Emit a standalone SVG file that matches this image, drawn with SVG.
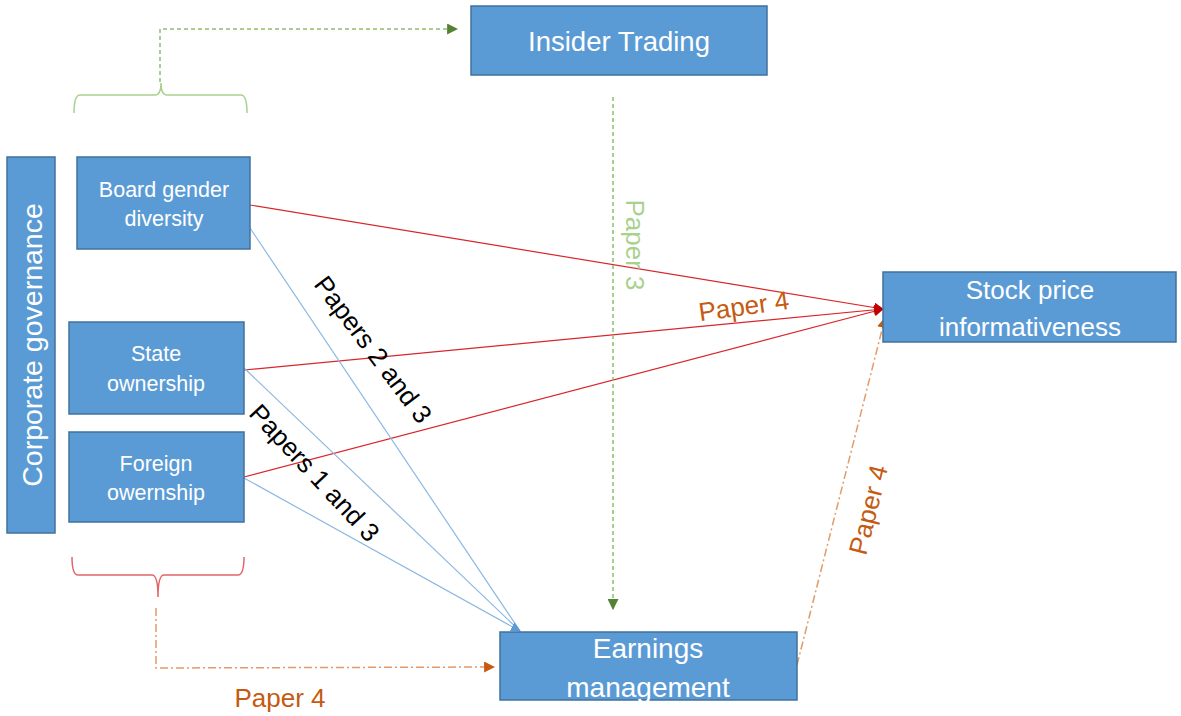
<svg xmlns="http://www.w3.org/2000/svg" width="1181" height="716" viewBox="0 0 1181 716">
<defs>
<style>
.box{fill:#5B9BD5;stroke:#41719C;stroke-width:1.5}
.bt{fill:#fff;font-family:"Liberation Sans",Arial,sans-serif;text-anchor:middle}
.lbl{font-family:"Liberation Sans",Arial,sans-serif;text-anchor:middle}
.red{stroke:#D9262B;stroke-width:1.2;fill:none}
.blue{stroke:#8DB8E3;stroke-width:1.2;fill:none}
.green{stroke:#8FBF6F;stroke-width:1.5;fill:none;stroke-dasharray:4 3}
.orange{stroke:#E39A66;stroke-width:1.5;fill:none;stroke-dasharray:8 3 2 3}
</style>
<marker id="mr" markerWidth="10" markerHeight="10" refX="9" refY="5" orient="auto" markerUnits="userSpaceOnUse" viewBox="0 0 10 10"><path d="M0,0 L10,5 L0,10 z" fill="#C00000"/></marker>
<marker id="mb" markerWidth="10" markerHeight="10" refX="9" refY="5" orient="auto" markerUnits="userSpaceOnUse" viewBox="0 0 10 10"><path d="M0,0 L10,5 L0,10 z" fill="#5B9BD5"/></marker>
<marker id="mg" markerWidth="11" markerHeight="11" refX="9" refY="5" orient="auto" markerUnits="userSpaceOnUse" viewBox="0 0 10 10"><path d="M0,0 L10,5 L0,10 z" fill="#548235"/></marker>
<marker id="mo" markerWidth="11" markerHeight="11" refX="9" refY="5" orient="auto" markerUnits="userSpaceOnUse" viewBox="0 0 10 10"><path d="M0,0 L10,5 L0,10 z" fill="#C55A11"/></marker>
</defs>
<rect width="1181" height="716" fill="#fff"/>
<g id="connectors">
<line class="red" x1="250" y1="205" x2="883" y2="309" marker-end="url(#mr)"/>
<line class="red" x1="244" y1="370" x2="883" y2="309" marker-end="url(#mr)"/>
<line class="red" x1="244" y1="477" x2="883" y2="309" marker-end="url(#mr)"/>
<line class="blue" x1="250" y1="228" x2="520" y2="631"/>
<line class="blue" x1="244" y1="368" x2="520" y2="631"/>
<line class="blue" x1="244" y1="478" x2="520" y2="631" marker-end="url(#mb)"/>
<line class="green" x1="613" y1="97" x2="613" y2="609" marker-end="url(#mg)"/>
<polyline class="green" points="160,82 160,29 457,29" marker-end="url(#mg)"/>
<polyline class="orange" points="156,608 156,668 494,667" marker-end="url(#mo)"/>
<line class="orange" x1="797" y1="665" x2="885" y2="318" marker-end="url(#mo)"/>
<path d="M74,113 Q74,95 80,95 L155,95 Q161,95 161,83 Q161,95 167,95 L241,95 Q247,95 247,113" fill="none" stroke="#A9D18E" stroke-width="1.5"/>
<path d="M72,557 Q72,575 78,575 L152,575 Q158,575 158,597 Q158,575 164,575 L238,575 Q244,575 244,557" fill="none" stroke="#E06666" stroke-width="1.5"/>
</g>
<g id="insider"><rect class="box" x="471" y="6" width="296" height="69"/><text class="bt" x="619" y="51" font-size="27.5">Insider Trading</text></g>
<g id="corp"><rect class="box" x="7" y="157" width="48" height="376"/><text class="bt" font-size="28.5" transform="translate(42,345) rotate(-90)">Corporate governance</text></g>
<g id="board"><rect class="box" x="77" y="157" width="173" height="92"/><text class="bt" x="164" y="197" font-size="21.5">Board gender</text><text class="bt" x="164" y="226" font-size="21.5">diversity</text></g>
<g id="state"><rect class="box" x="69" y="322" width="175" height="92"/><text class="bt" x="156" y="361" font-size="21.5">State</text><text class="bt" x="156" y="391" font-size="21.5">ownership</text></g>
<g id="foreign"><rect class="box" x="69" y="432" width="175" height="90"/><text class="bt" x="156" y="471" font-size="21.5">Foreign</text><text class="bt" x="156" y="500" font-size="21.5">owernship</text></g>
<g id="stock"><rect class="box" x="883" y="272" width="293" height="70"/><text class="bt" x="1030" y="299" font-size="26">Stock price</text><text class="bt" x="1030" y="336" font-size="26">informativeness</text></g>
<g id="earnings"><rect class="box" x="500" y="632" width="297" height="68"/><text class="bt" x="648" y="658" font-size="28">Earnings</text><text class="bt" x="648" y="697" font-size="28">management</text></g>
<g id="labels">
<text class="lbl" font-size="26" fill="#000" transform="translate(366,355) rotate(53)">Papers 2 and 3</text>
<text class="lbl" font-size="26" fill="#000" transform="translate(308,479) rotate(47)">Papers 1 and 3</text>
<text class="lbl" font-size="26" fill="#A9D18E" transform="translate(626,245) rotate(90)">Paper 3</text>
<text class="lbl" font-size="26" fill="#C55A11" transform="translate(745,315) rotate(-8)">Paper 4</text>
<text class="lbl" font-size="26" fill="#C55A11" transform="translate(877,512) rotate(-76)">Paper 4</text>
<text class="lbl" font-size="26" fill="#C55A11" x="280" y="707">Paper 4</text>
</g>
</svg>
